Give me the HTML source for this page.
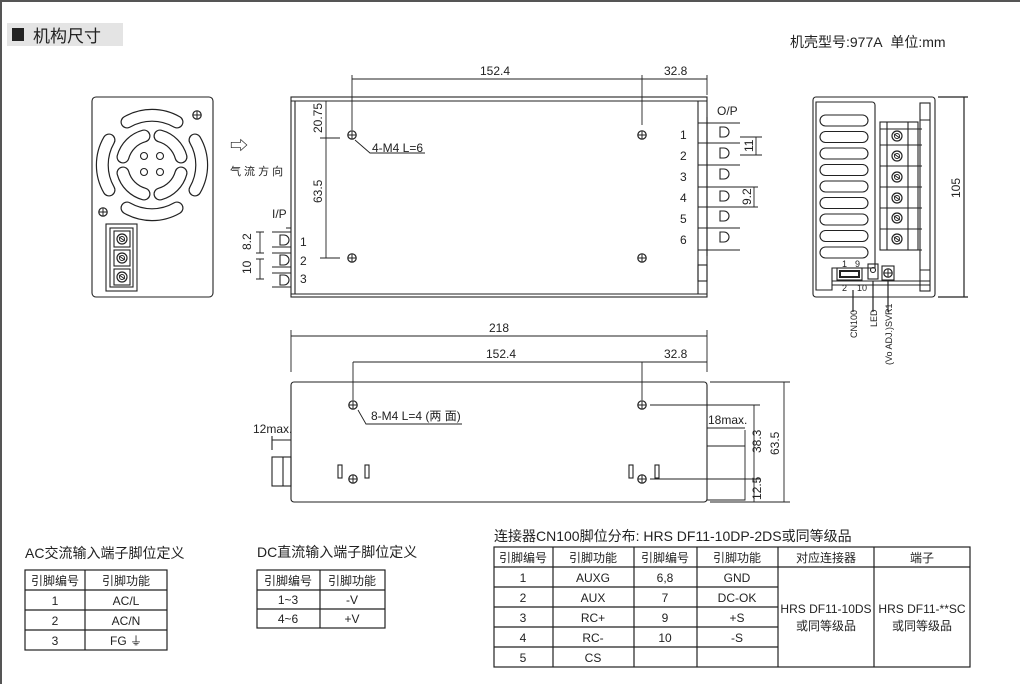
<!DOCTYPE html>
<html><head><meta charset="utf-8"><style>
html,body{margin:0;padding:0;background:#fff}
svg{display:block}
text{font-family:"Liberation Sans","Noto Sans CJK SC",sans-serif;fill:#222}
</style></head><body>
<svg width="1020" height="684" viewBox="0 0 1020 684" xmlns="http://www.w3.org/2000/svg">
<defs>
<g id="scr"><circle r="4.2" fill="#fff" stroke="#222" stroke-width="1.2"/><path d="M-4 0H4M0-4V4" stroke="#222" stroke-width="1"/></g>
<g id="bscr"><circle r="5" fill="#fff" stroke="#222" stroke-width="1.2"/><path d="M-3 -2L3 2M-3 2" stroke="#222" stroke-width="1"/><circle r="2.5" fill="none" stroke="#222"/></g>
<g id="fan"><path d="M127 122 A50 50 0 0 1 177 122"/><path d="M127 208 A50 50 0 0 0 177 208"/><path d="M109 140 A50 50 0 0 0 109 190"/><path d="M195 140 A50 50 0 0 1 195 190"/>
<path d="M123 157 A30 30 0 0 1 144 136"/><path d="M160 136 A30 30 0 0 1 181 157"/><path d="M181 173 A30 30 0 0 1 160 194"/><path d="M144 194 A30 30 0 0 1 123 173"/></g>
</defs>
<rect x="1" y="1" width="1030" height="700" fill="none" stroke="#555" stroke-width="2"/>
<rect x="7" y="23" width="116" height="23" fill="#e4e4e4"/>
<rect x="12" y="28" width="12" height="13" fill="#222"/>
<text x="33" y="42" font-size="17">机构尺寸</text>
<text x="790" y="47" font-size="14">机壳型号:977A&#160;&#160;单位:mm</text>

<g fill="none" stroke="#222" stroke-width="1.1">
<!-- front view -->
<rect x="92" y="97" width="121" height="200" rx="4"/>
<g stroke-width="13" stroke-linecap="round"><use href="#fan"/></g>
<g stroke="#fff" stroke-width="10.6" stroke-linecap="round"><use href="#fan"/></g>
<circle cx="144" cy="156" r="3.5"/><circle cx="160" cy="156" r="3.5"/><circle cx="144" cy="172" r="3.5"/><circle cx="160" cy="172" r="3.5"/>
<rect x="106" y="224" width="31" height="67"/><rect x="110" y="228" width="23" height="59"/>
<rect x="114" y="231" width="16" height="16"/><rect x="114" y="250" width="16" height="16"/><rect x="114" y="269" width="16" height="16"/>
<!-- top view -->
<rect x="291" y="97" width="416" height="200"/>
<path d="M291 101H707M295 101V294M291 294H707M698 101V294"/>
<path d="M698 123H740M698 143H740M698 165H740M698 187H740M698 207H740M698 228H740M698 250H740M707 117V256"/>
<path d="M720 127h4a5 5 0 0 1 0 10h-4zM720 148h4a5 5 0 0 1 0 10h-4zM720 169h4a5 5 0 0 1 0 10h-4zM720 191h4a5 5 0 0 1 0 10h-4zM720 211h4a5 5 0 0 1 0 10h-4zM720 232h4a5 5 0 0 1 0 10h-4z"/>
<rect x="698" y="265" width="9" height="16"/>
<path d="M272 232H291M272 247H291M272 253H291M272 267H291M272 273H291M272 287H291M286 228H291"/>
<path d="M280 235h4a5 5 0 0 1 0 10h-4zM280 255h4a5 5 0 0 1 0 10h-4zM280 275h4a5 5 0 0 1 0 10h-4z"/>
<path d="M256 232H264M256 253H264M260 232V253M256 259H264M256 279H264M260 259V279" stroke-width="0.9"/>
<path d="M740 137H762M740 155H762M756 137V155M740 187H758M740 207H758M754 187V207" stroke-width="0.9"/>
<path d="M352 75V130M642 75V125M707 75V95M352 79H707M326 101V258M320 138H340M320 258H340" stroke-width="0.9"/>
<path d="M355 140L370 153H425" stroke-width="0.9"/>
<!-- end view -->
<rect x="813" y="97" width="122" height="200" rx="3"/>
<path d="M816 290V102H872a3 3 0 0 1 3 3V268H832V290Z"/>
<rect x="820" y="115" width="48" height="11" rx="5.5"/><rect x="820" y="131.5" width="48" height="11" rx="5.5"/><rect x="820" y="148" width="48" height="11" rx="5.5"/><rect x="820" y="164.5" width="48" height="11" rx="5.5"/><rect x="820" y="181" width="48" height="11" rx="5.5"/><rect x="820" y="197.5" width="48" height="11" rx="5.5"/><rect x="820" y="214" width="48" height="11" rx="5.5"/><rect x="820" y="230.5" width="48" height="11" rx="5.5"/><rect x="820" y="247" width="48" height="11" rx="5.5"/>
<rect x="880" y="122" width="38" height="128"/>
<path d="M880 129H922M880 145H922M880 166H922M880 187H922M880 208H922M880 229H922M880 250H922M887 122V250M908 122V250"/>
<rect x="920" y="103" width="10" height="188"/><path d="M920 120H930M920 270H930"/>
<path d="M832 281H930M832 285H930"/>
<rect x="837" y="268" width="25" height="12"/><rect x="840" y="271" width="19" height="6" stroke-width="2"/>
<rect x="868" y="264" width="10" height="15"/><circle cx="873" cy="270" r="2.5"/>
<rect x="882" y="266" width="12" height="14"/>
<path d="M853 290V312M873 281V312M888 281V312M938 97H968M938 297H968M964 97V297" stroke-width="1.2"/>
<!-- side view -->
<rect x="291" y="382" width="416" height="120" rx="3"/>
<path d="M291 330V372M707 330V372M291 336H707M353 362V400M642 362V400M353 362H707" stroke-width="0.9"/>
<rect x="272" y="457" width="19" height="29"/><path d="M283 457V486M272 436V450M272 440H291"/>
<rect x="338" y="465" width="4" height="13"/><rect x="365" y="465" width="4" height="13"/>
<rect x="629" y="465" width="4" height="13"/><rect x="655" y="465" width="4" height="13"/>
<path d="M358 410L366 424H462" stroke-width="0.9"/>
<path d="M707 446H745V500H707M745 430V450M707 428H745" stroke-width="0.9"/>
<path d="M650 405H760M650 479H760M710 382H790M710 502H790M754 405V502M784 382V502" stroke-width="0.9"/>
</g>
<g fill="#222">
<use href="#scr" x="197" y="115"/><use href="#scr" x="103" y="212"/>
<use href="#scr" x="352" y="135"/><use href="#scr" x="642" y="135"/><use href="#scr" x="352" y="258"/><use href="#scr" x="642" y="258"/>
<use href="#scr" x="353" y="405"/><use href="#scr" x="642" y="405"/><use href="#scr" x="353" y="479"/><use href="#scr" x="642" y="479"/>
<use href="#bscr" x="122" y="239"/><use href="#bscr" x="122" y="258"/><use href="#bscr" x="122" y="277"/>
<use href="#bscr" x="897" y="136"/><use href="#bscr" x="897" y="156"/><use href="#bscr" x="897" y="177"/><use href="#bscr" x="897" y="198"/><use href="#bscr" x="897" y="218"/><use href="#bscr" x="897" y="239"/>
<use href="#scr" x="888" y="273"/>
</g>
<text x="230" y="152" font-size="18">⇨</text>
<text x="230" y="175" font-size="11">气 流 方 向</text>
<g font-size="12">
<text x="480" y="75">152.4</text><text x="664" y="75">32.8</text>
<text x="717" y="115">O/P</text>
<text x="680" y="139">1</text><text x="680" y="160">2</text><text x="680" y="181">3</text><text x="680" y="202">4</text><text x="680" y="223">5</text><text x="680" y="244">6</text>
<text x="372" y="152">4-M4 L=6</text>
<text x="272" y="218">I/P</text>
<text x="300" y="246">1</text><text x="300" y="265">2</text><text x="300" y="283">3</text>
<text x="489" y="332">218</text><text x="486" y="358">152.4</text><text x="664" y="358">32.8</text>
<text x="371" y="420">8-M4 L=4 (两 面)</text>
<text x="253" y="433">12max.</text><text x="708" y="424">18max.</text>
</g>
<g font-size="12">
<text transform="translate(322,133) rotate(-90)">20.75</text>
<text transform="translate(322,203) rotate(-90)">63.5</text>
<text transform="translate(251,250) rotate(-90)">8.2</text>
<text transform="translate(251,274) rotate(-90)">10</text>
<text transform="translate(753,152) rotate(-90)">11</text>
<text transform="translate(751,205) rotate(-90)">9.2</text>
<text transform="translate(960,198) rotate(-90)">105</text>
<text transform="translate(761,453) rotate(-90)">38.3</text>
<text transform="translate(779,455) rotate(-90)">63.5</text>
<text transform="translate(761,500) rotate(-90)">12.5</text>
</g>
<g font-size="9">
<text x="842" y="267">1</text><text x="855" y="267">9</text><text x="842" y="291">2</text><text x="857" y="291">10</text>
<text transform="translate(857,338) rotate(-90)">CN100</text>
<text transform="translate(877,327) rotate(-90)">LED</text>
<text transform="translate(892,365) rotate(-90)">(Vo ADJ.)SVR1</text>
</g>

<!-- tables -->
<g font-size="14"><text x="25" y="558">AC交流输入端子脚位定义</text><text x="257" y="557">DC直流输入端子脚位定义</text>
<text x="494" y="541">连接器CN100脚位分布: HRS DF11-10DP-2DS或同等级品</text></g>
<g fill="none" stroke="#222" stroke-width="1.2">
<rect x="25" y="570" width="142" height="80"/><path d="M25 590H167M25 610H167M25 630H167M85 570V650"/>
<rect x="257" y="570" width="128" height="58"/><path d="M257 590H385M257 609H385M320 570V628"/>
<rect x="494" y="547" width="476" height="120"/><path d="M494 567H970M494 587H778M494 607H778M494 627H778M494 647H778M553 547V667M634 547V667M697 547V667M778 547V667M874 547V667"/>
</g>
<g font-size="12" text-anchor="middle">
<text x="55" y="585">引脚编号</text><text x="126" y="585">引脚功能</text>
<text x="55" y="605">1</text><text x="126" y="605">AC/L</text>
<text x="55" y="625">2</text><text x="126" y="625">AC/N</text>
<text x="55" y="645">3</text><text x="126" y="645">FG ⏚</text>
<text x="288" y="585">引脚编号</text><text x="352" y="585">引脚功能</text>
<text x="288" y="604">1~3</text><text x="352" y="604">-V</text>
<text x="288" y="623">4~6</text><text x="352" y="623">+V</text>
<text x="523" y="562">引脚编号</text><text x="593" y="562">引脚功能</text><text x="665" y="562">引脚编号</text><text x="737" y="562">引脚功能</text><text x="826" y="562">对应连接器</text><text x="922" y="562">端子</text>
<text x="523" y="582">1</text><text x="593" y="582">AUXG</text><text x="665" y="582">6,8</text><text x="737" y="582">GND</text>
<text x="523" y="602">2</text><text x="593" y="602">AUX</text><text x="665" y="602">7</text><text x="737" y="602">DC-OK</text>
<text x="523" y="622">3</text><text x="593" y="622">RC+</text><text x="665" y="622">9</text><text x="737" y="622">+S</text>
<text x="523" y="642">4</text><text x="593" y="642">RC-</text><text x="665" y="642">10</text><text x="737" y="642">-S</text>
<text x="523" y="662">5</text><text x="593" y="662">CS</text>
<text x="826" y="613">HRS DF11-10DS</text><text x="826" y="630">或同等级品</text>
<text x="922" y="613">HRS DF11-**SC</text><text x="922" y="630">或同等级品</text>
</g>
</svg>
</body></html>
